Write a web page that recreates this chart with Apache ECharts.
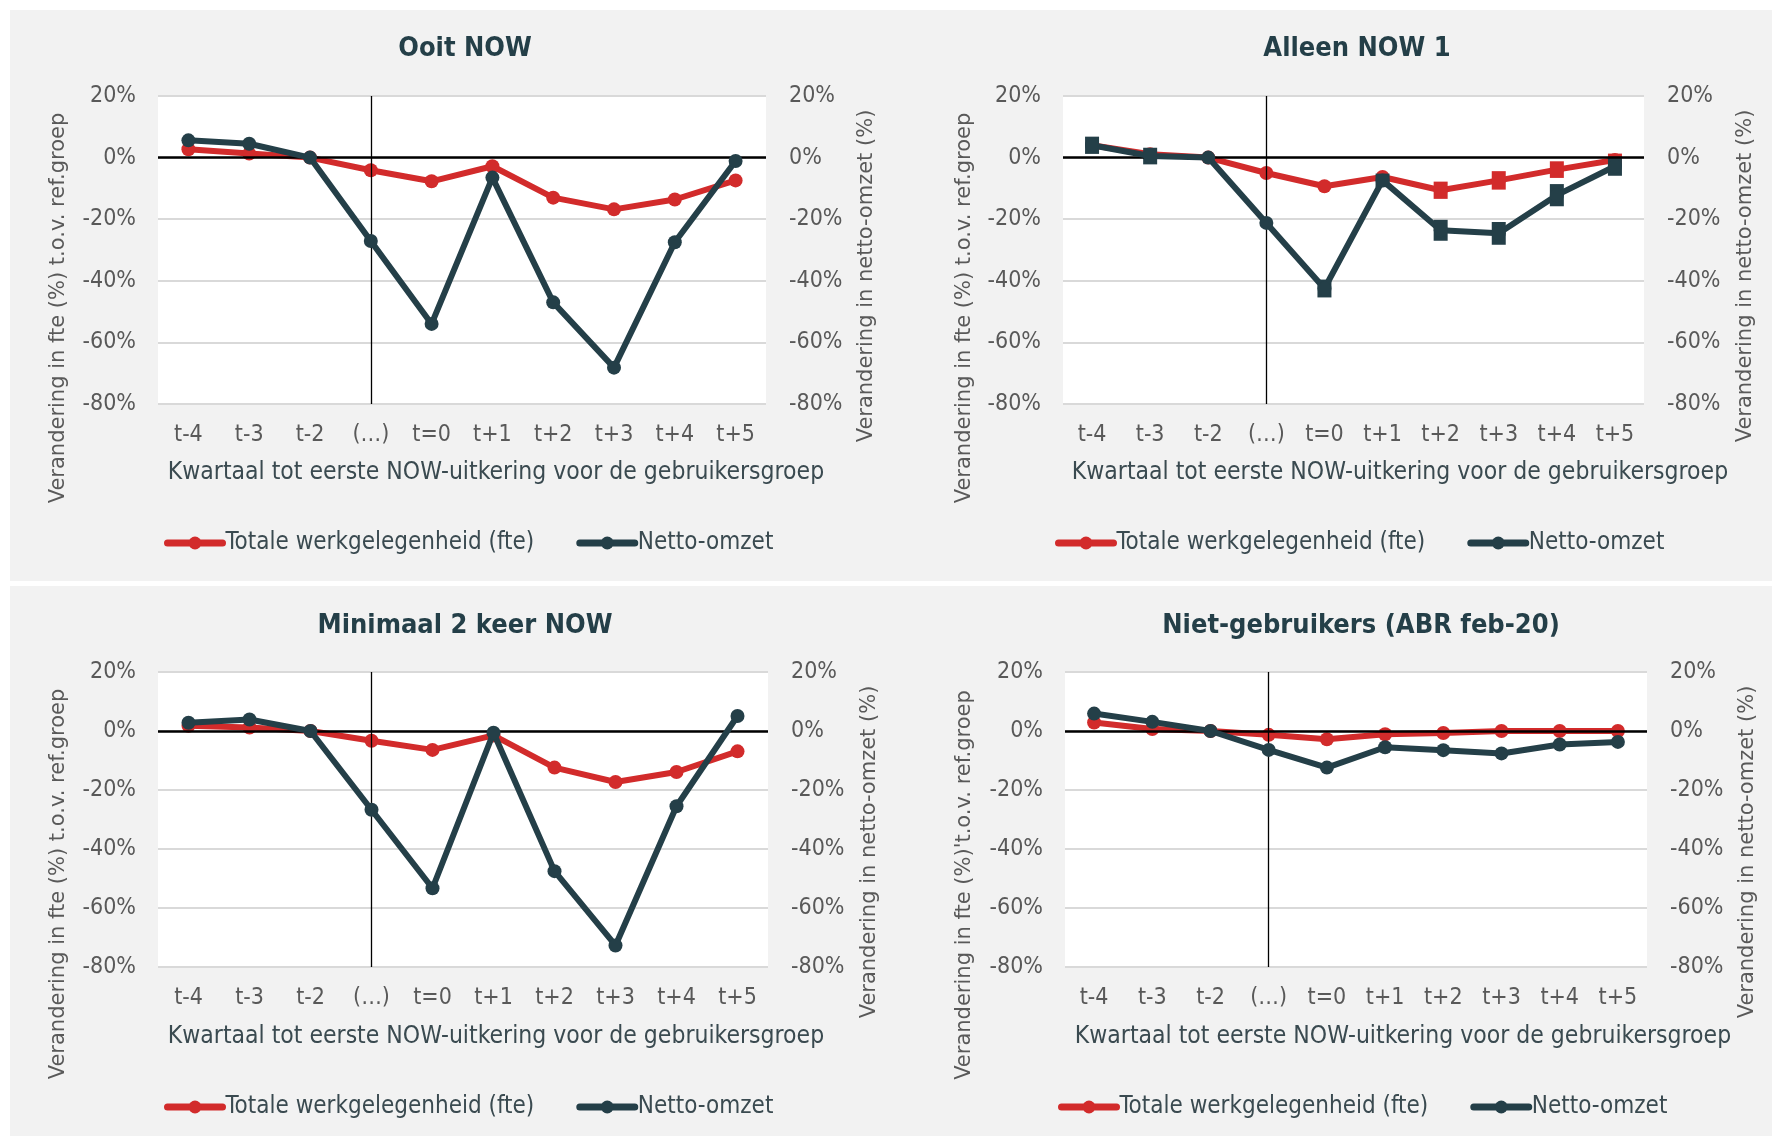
<!DOCTYPE html>
<html>
<head>
<meta charset="utf-8">
<title>NOW-gebruikers: fte en netto-omzet</title>
<script src="https://cdn.jsdelivr.net/npm/echarts@6/dist/echarts.min.js"></script>
<style>
  html, body { margin: 0; padding: 0; background: #fff; }
  #main { width: 1772px; height: 1136px; }
</style>
</head>
<body>
<div id="main"></div>
<script>
// categorieen en ticks
var categories = ['t-4', 't-3', 't-2', '(…)', 't=0', 't+1', 't+2', 't+3', 't+4', 't+5'];
var yMin = -80, yMax = 20, yStep = 20;

var titles = ['Ooit NOW', 'Alleen NOW 1', 'Minimaal 2 keer NOW', 'Niet-gebruikers (ABR feb-20)'];
var leftNames = [
  'Verandering in fte (%) t.o.v. ref.groep',
  'Verandering in fte (%) t.o.v. ref.groep',
  'Verandering in fte (%) t.o.v. ref.groep',
  "Verandering in fte (%)'t.o.v. ref.groep"
];
var rightName = 'Verandering in netto-omzet (%)';
var xName = 'Kwartaal tot eerste NOW-uitkering voor de gebruikersgroep';
var fteName = 'Totale werkgelegenheid (fte)';
var omzetName = 'Netto-omzet';

var fteOoit     = [2.7, 1.3, 0, -4.1, -7.7, -2.8, -13.0, -16.8, -13.6, -7.4];
var omzetOoit   = [5.6, 4.5, 0, -27.1, -54.0, -6.5, -47.0, -68.2, -27.5, -1.1];
var fteAlleen   = [4.0, 1.1, 0, -5.0, -9.3, -6.3, -10.6, -7.4, -3.9, -0.8];
var omzetAlleen = [4.0, 0.5, 0, -21.2, -42.5, -7.4, -23.6, -24.6, -12.2, -2.8];
var fteMin2     = [1.8, 1.2, 0, -3.3, -6.4, -1.5, -12.4, -17.3, -13.9, -6.9];
var omzetMin2   = [2.8, 3.9, 0, -26.7, -53.3, -0.6, -47.5, -72.7, -25.5, 5.1];
var fteNiet     = [2.9, 0.7, 0, -1.3, -2.8, -1.1, -0.7, 0, 0, 0];
var omzetNiet   = [5.9, 3.1, 0, -6.4, -12.4, -5.5, -6.5, -7.6, -4.6, -3.7];

// foutmarges (halve hoogte, %) alleen zichtbaar bij Alleen NOW 1
var fteErrAlleen   = [0, 0, 0, 0, 0, 0, 2.8, 3.0, 2.7, 2.1];
var omzetErrAlleen = [2.8, 2.7, 0, 0, 2.9, 2.2, 3.4, 3.7, 3.6, 3.1];

var fteData = [fteOoit, fteAlleen, fteMin2, fteNiet];
var omzetData = [omzetOoit, omzetAlleen, omzetMin2, omzetNiet];
var fteErr = [null, fteErrAlleen, null, null];
var omzetErr = [null, omzetErrAlleen, null, null];

var RED = '#d22b2b';
var DARK = '#243f48';
var GREY = '#595959';
var TXT = '#3a4a50';
var COND = "'Liberation Sans Narrow', 'DejaVu Sans Condensed', sans-serif";
var WIDE = "'DejaVu Sans', Lato, sans-serif";

// opmaak per paneel
var panels = [
  { gl: 158,  gw: 608, gt: 96,  gh: 308, cx: 460,  ty: 47,  lx: 59,  rx: 867,  ly: 308, ry: 276, xnx: 496,  xny: 473,  lgx: 159,  lgy: 543 },
  { gl: 1063, gw: 581, gt: 96,  gh: 308, cx: 1352, ty: 47,  lx: 965, rx: 1746, ly: 308, ry: 276, xnx: 1400, xny: 473,  lgx: 1050, lgy: 543 },
  { gl: 158,  gw: 610, gt: 672, gh: 295, cx: 460,  ty: 624, lx: 59,  rx: 870,  ly: 884, ry: 852, xnx: 496,  xny: 1037, lgx: 159,  lgy: 1107 },
  { gl: 1065, gw: 582, gt: 672, gh: 295, cx: 1356, ty: 624, lx: 965, rx: 1748, ly: 885, ry: 852, xnx: 1403, xny: 1037, lgx: 1053, lgy: 1107 }
];

var chart = echarts.init(document.getElementById('main'));

function errSeries(vals, errs, yIdx, xIdx, color) {
  var d = [];
  for (var i = 0; i < vals.length; i++) {
    if (errs[i] > 0) d.push([i, vals[i], errs[i]]);
  }
  return {
    type: 'custom',
    name: 'err',
    xAxisIndex: xIdx,
    yAxisIndex: yIdx,
    z: 4,
    silent: true,
    encode: { x: 0, y: 1 },
    data: d,
    renderItem: function (params, api) {
      var top = api.coord([api.value(0), api.value(1) + api.value(2)]);
      var bot = api.coord([api.value(0), api.value(1) - api.value(2)]);
      return {
        type: 'rect',
        shape: { x: top[0] - 7, y: top[1], width: 14, height: bot[1] - top[1] },
        style: { fill: color }
      };
    }
  };
}

var option = {
  backgroundColor: '#f2f2f2',
  animation: false,
  title: [], grid: [], xAxis: [], yAxis: [], legend: [], series: [],
  graphic: [
    { type: 'rect', shape: { x: 0, y: 0, width: 1772, height: 10 }, style: { fill: '#fff' } },
    { type: 'rect', shape: { x: 0, y: 0, width: 10, height: 1136 }, style: { fill: '#fff' } },
    { type: 'rect', shape: { x: 0, y: 581, width: 1772, height: 5 }, style: { fill: '#fff' } }
  ]
};

panels.forEach(function (p, k) {
  option.title.push({
    text: titles[k], left: p.cx, top: p.ty - 17, textAlign: 'center',
    textStyle: { fontFamily: COND, fontWeight: 'bold', fontSize: 27, color: DARK }
  });
  option.grid.push({
    left: p.gl, top: p.gt, width: p.gw, height: p.gh,
    show: true, backgroundColor: '#fff', borderWidth: 0
  });
  option.xAxis.push({
    type: 'category', gridIndex: k, data: categories,
    axisLine: { show: false }, axisTick: { show: false },
    axisLabel: { margin: 20, fontSize: 23, color: GREY, fontFamily: COND }
  });
  option.yAxis.push({
    type: 'value', gridIndex: k, min: yMin, max: yMax, interval: yStep,
    axisLine: { show: false }, axisTick: { show: false },
    axisLabel: { formatter: '{value}%', margin: 22, fontSize: 23, color: GREY, fontFamily: COND },
    splitLine: { lineStyle: { color: '#d9d9d9', width: 2 } }
  });
  option.yAxis.push({
    type: 'value', gridIndex: k, position: 'right', min: yMin, max: yMax, interval: yStep,
    axisLine: { show: false }, axisTick: { show: false },
    axisLabel: { formatter: '{value}%', margin: 23, fontSize: 23, color: GREY, fontFamily: COND },
    splitLine: { show: false }
  });
  option.legend.push({
    left: p.lgx, top: p.lgy - 17, itemWidth: 55, itemHeight: 16, itemGap: 42,
    data: [fteName, omzetName],
    lineStyle: { width: 7, cap: 'round' },
    textStyle: { fontFamily: COND, fontSize: 24, color: TXT, padding: [0, 0, 0, -2] }
  });
  option.series.push({
    type: 'line', name: fteName, xAxisIndex: k, yAxisIndex: 2 * k, z: 2,
    data: fteData[k], symbol: 'circle', symbolSize: 14,
    lineStyle: { color: RED, width: 6 }, itemStyle: { color: RED },
    markLine: {
      silent: true, symbol: 'none', label: { show: false },
      data: [
        { xAxis: '(…)', lineStyle: { color: '#000', width: 1.3, type: 'solid' } },
        { yAxis: 0, lineStyle: { color: '#000', width: 2.5, type: 'solid' } }
      ]
    }
  });
  if (fteErr[k]) option.series.push(errSeries(fteData[k], fteErr[k], 2 * k, k, RED));
  option.series.push({
    type: 'line', name: omzetName, xAxisIndex: k, yAxisIndex: 2 * k + 1, z: 5,
    data: omzetData[k], symbol: 'circle', symbolSize: 14,
    lineStyle: { color: DARK, width: 6 }, itemStyle: { color: DARK }
  });
  if (omzetErr[k]) option.series.push(errSeries(omzetData[k], omzetErr[k], 2 * k + 1, k, DARK));

  // asnamen
  option.graphic.push({
    type: 'text', x: p.lx, y: p.ly, rotation: Math.PI / 2,
    style: { text: leftNames[k], fontFamily: WIDE, fontSize: 21, fill: GREY, align: 'center', verticalAlign: 'middle' }
  });
  option.graphic.push({
    type: 'text', x: p.rx, y: p.ry, rotation: Math.PI / 2,
    style: { text: rightName, fontFamily: WIDE, fontSize: 21, fill: GREY, align: 'center', verticalAlign: 'middle' }
  });
  option.graphic.push({
    type: 'text', x: p.xnx, y: p.xny,
    style: { text: xName, fontFamily: COND, fontSize: 24.5, fill: TXT, align: 'center', verticalAlign: 'middle' }
  });
});

chart.setOption(option);
</script>
</body>
</html>
